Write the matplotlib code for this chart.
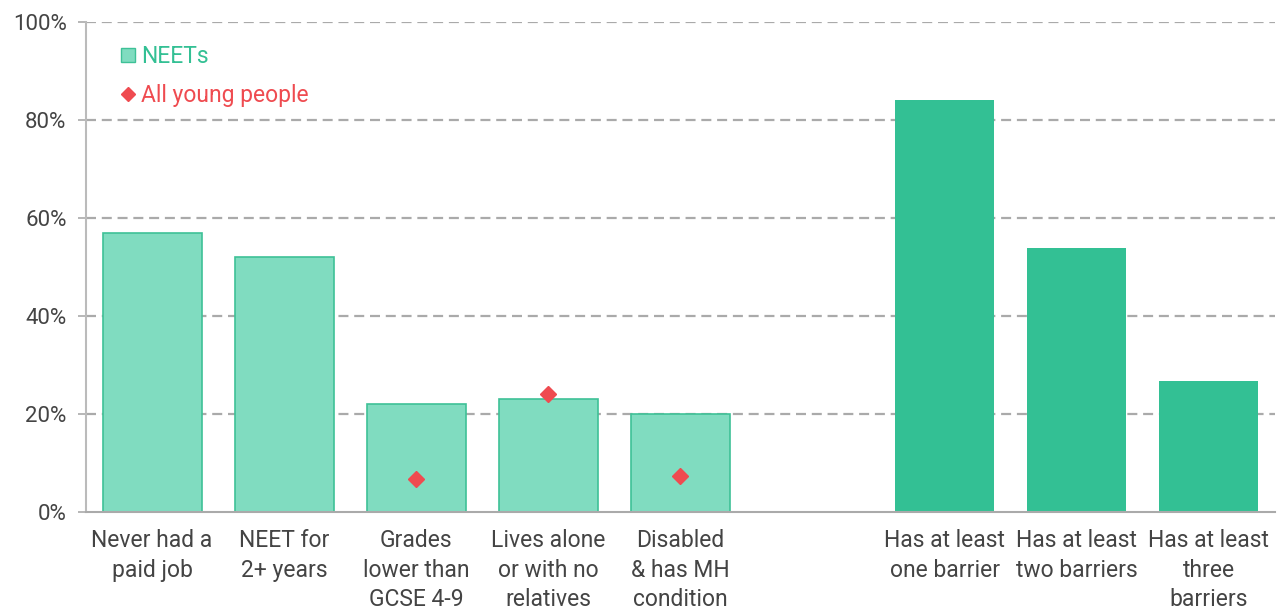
import matplotlib
matplotlib.use("Agg")
import matplotlib.pyplot as plt
from matplotlib.lines import Line2D
from matplotlib.ticker import FuncFormatter

plt.rcParams['font.family'] = ['Roboto', 'DejaVu Sans']
plt.rcParams['font.weight'] = 'normal'

categories = ["Never had a\npaid job", "NEET for\n2+ years", "Grades\nlower than\nGCSE 4-9",
              "Lives alone\nor with no\nrelatives", "Disabled\n& has MH\ncondition",
              "Has at least\none barrier", "Has at least\ntwo barriers", "Has at least\nthree\nbarriers"]
neets = [57, 52, 22, 23, 20, 84, 53.8, 26.8]
all_young = [None, None, 6.8, 24.0, 7.4, None, None, None]
positions = [0, 1, 2, 3, 4, 6, 7, 8]
yticks = [0, 20, 40, 60, 80, 100]

light = "#80dcc0"
light_edge = "#3ec197"
dark = "#33c094"
red = "#ef4b50"
grey = "#aaaaaa"
text_c = "#444444"

fig = plt.figure(figsize=(12.86, 6.12), dpi=100)
ax = fig.add_axes([0.0669, 0.1634, 0.9245, 0.8006])

for i, (p, v) in enumerate(zip(positions, neets)):
    if i < 5:
        ax.bar(p, v, width=0.75, color=light, edgecolor=light_edge, linewidth=1.2, zorder=3)
    else:
        ax.bar(p, v, width=0.75, color=dark, edgecolor="none", zorder=3)

for p, v in zip(positions, all_young):
    if v is not None:
        ax.plot(p, v, marker="D", color=red, markersize=8, linestyle="none", zorder=4)

ax.set_xlim(-0.5, 8.5)
ax.set_ylim(0, 100)
ax.set_yticks(yticks)
ax.yaxis.set_major_formatter(FuncFormatter(lambda v, _: f"{int(v)}%"))
ax.set_xticks(positions)
ax.set_xticklabels(categories, fontsize=16.5, color=text_c, linespacing=1.38)
for lab in ax.get_yticklabels():
    lab.set_fontsize(16)
    lab.set_color(text_c)
ax.tick_params(axis="x", length=0, pad=12)
ax.tick_params(axis="y", length=6, width=1.2, color=grey, pad=8)

for y in yticks[1:]:
    ax.axhline(y, color=grey, linestyle=(0, (4.5, 2.6)), linewidth=1.6, zorder=1)

for s in ["top", "right"]:
    ax.spines[s].set_visible(False)
ax.spines["left"].set_color("#bbbbbb")
ax.spines["left"].set_linewidth(1.5)
ax.spines["bottom"].set_color("#aaaaaa")
ax.spines["bottom"].set_linewidth(1.5)
ax.spines["bottom"].set_zorder(5)

handles = [Line2D([], [], marker="s", color=light, markeredgecolor=light_edge, markersize=10, linestyle="none"),
           Line2D([], [], marker="D", color=red, markersize=7, linestyle="none")]
leg = ax.legend(handles, ["NEETs", "All young people"], loc="upper left",
                bbox_to_anchor=(0.008, 0.995), frameon=False, fontsize=16.5,
                handletextpad=0.1, labelspacing=0.7, handlelength=1.0,
                labelcolor=[dark, red])

fig.savefig("out.png", dpi=100)
